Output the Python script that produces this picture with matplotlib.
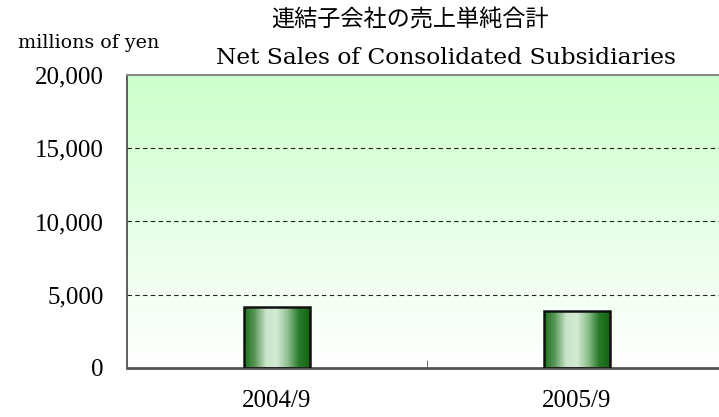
import matplotlib
matplotlib.use("Agg")
import matplotlib.pyplot as plt
import numpy as np
from matplotlib.colors import LinearSegmentedColormap

# data
categories = ["2004/9", "2005/9"]
net_sales = [4150, 3880]
y_ticks = [0, 5000, 10000, 15000, 20000]

title_jp = "連結子会社の売上単純合計"
title_en = "Net Sales of Consolidated Subsidiaries"
unit_label = "millions of yen"

plt.rcParams['font.family'] = ["Liberation Serif", "Noto Sans CJK JP"]

fig = plt.figure(figsize=(7.19, 4.17), dpi=100)
ax = fig.add_axes([127 / 719, 1 - 368 / 417, 600 / 719, 293 / 417])

x = np.arange(len(categories))
ax.set_xlim(-0.5, len(categories) - 0.5)
ax.set_ylim(0, 20000)

# background gradient: white at bottom to light green at top
bg = LinearSegmentedColormap.from_list("bg", ["#ffffff", "#ccffcc"])
grad = np.linspace(0, 1, 256).reshape(-1, 1)
ax.imshow(grad, cmap=bg, aspect="auto", origin="lower",
          extent=[-0.5, len(categories) - 0.5, 0, 20000], zorder=0)

for v in y_ticks[1:-1]:
    ax.axhline(v, color="#222222", lw=0.8, ls=(0, (4, 3)), zorder=1)

# bars with cylinder-like gradient
bar_cmap = LinearSegmentedColormap.from_list(
    "bar", ["#1e6e1e", "#5a9a5a", "#c8e4c8", "#d4ead4", "#8fbf8f", "#2a7a2a", "#116611"])
hgrad = np.linspace(0, 1, 256).reshape(1, -1)
bars = ax.bar(x, net_sales, width=0.217, facecolor="none",
              edgecolor="#111111", lw=1.8, zorder=3)
for b in bars:
    x0, y0 = b.get_x(), b.get_y()
    im = ax.imshow(hgrad, cmap=bar_cmap, aspect="auto",
                   extent=[x0, x0 + b.get_width(), y0, y0 + b.get_height()], zorder=2)
    im.set_clip_path(b)

ax.set_xlim(-0.5, len(categories) - 0.5)
ax.set_ylim(0, 20000)

ax.set_yticks(y_ticks)
ax.set_yticklabels([f"{v:,}" for v in y_ticks], fontsize=18)
ax.tick_params(axis="y", length=0, pad=17)

ax.set_xticks(x)
ax.set_xticklabels(categories, fontsize=18)
ax.tick_params(axis="x", length=0, pad=16)
ax.set_xticks([0.5], minor=True)
ax.tick_params(axis="x", which="minor", direction="in", length=6, color="#555555")

for s in ["top", "right"]:
    ax.spines[s].set_visible(False)
ax.spines["left"].set_color("#444444")
ax.spines["left"].set_linewidth(1.2)
ax.spines["bottom"].set_color("#555555")
ax.spines["bottom"].set_linewidth(2)
ax.axhline(20000, color="#888888", lw=1.5, zorder=4, clip_on=False)

fig.text(410 / 719, 1 - 21 / 417, title_jp, ha="center", va="center", fontsize=16.7)
fig.text(446 / 719, 1 - 58 / 417, title_en, ha="center", va="center", fontsize=16.8,
         family="DejaVu Serif")
fig.text(18 / 719, 1 - 43 / 417, unit_label, ha="left", va="center", fontsize=13.7,
         family="DejaVu Serif")

fig.savefig("out.png", dpi=100)
